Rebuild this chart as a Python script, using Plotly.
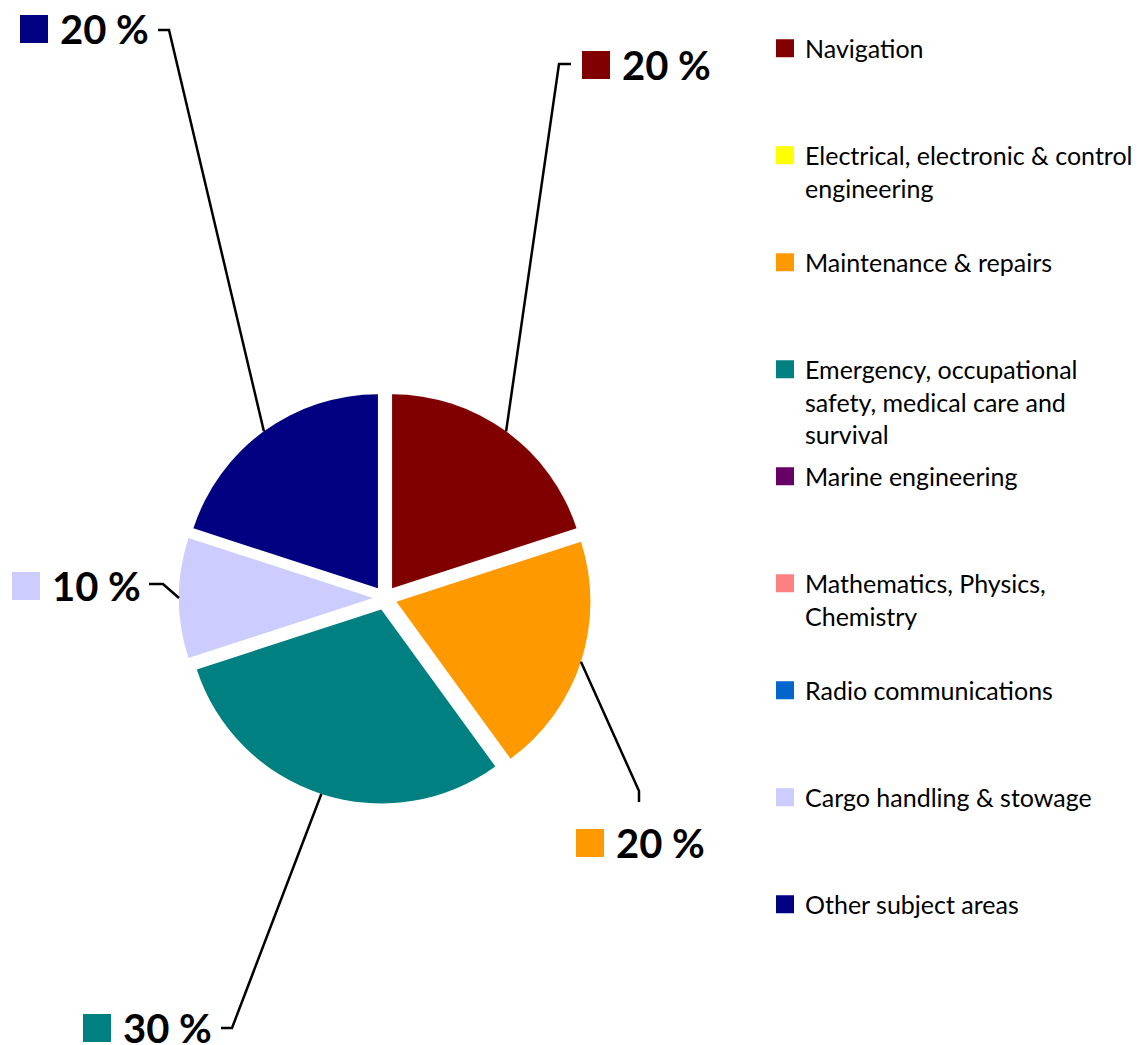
import math
import plotly.graph_objects as go

W, H = 1145, 1045
OFF = 8  # page margin around the figure

# ---- data -------------------------------------------------------------
subjects = [
    "Navigation",
    "Electrical, electronic & control engineering",
    "Maintenance & repairs",
    "Emergency, occupational safety, medical care and survival",
    "Marine engineering",
    "Mathematics, Physics, Chemistry",
    "Radio communications",
    "Cargo handling & stowage",
    "Other subject areas",
]
legend_names = [
    "Navigation",
    "Electrical, electronic & control<br>engineering",
    "Maintenance & repairs",
    "Emergency, occupational<br>safety, medical care and<br>survival",
    "Marine engineering",
    "Mathematics, Physics,<br>Chemistry",
    "Radio communications",
    "Cargo handling & stowage",
    "Other subject areas",
]
shares = [20, 0, 20, 30, 0, 0, 0, 10, 20]
colors = ["#800000", "#FFFF00", "#FF9900", "#008080", "#660066",
          "#FF8080", "#0066CC", "#CCCCFF", "#000080"]

# ---- pie geometry (screen pixels) -------------------------------------
PIE_CX, PIE_CY, PIE_R, PULL = 385, 598, 194, 0.062

# label placement for the non-empty slices:
# (square left, square top, line start, elbow)
label_pos = {
    0: (582, 51, (571, 64), (559, 64)),
    2: (576, 829, (639, 802), (639, 791)),
    3: (83, 1014, (221, 1028), (232, 1028)),
    7: (12, 572, (149, 584), (163, 584)),
    8: (20, 15, (158, 30), (169, 30)),
}


def px(x):
    return (x - OFF) / W


def py(y):
    return 1 - (y - OFF) / H


side = 2 * PIE_R * (1 + PULL)
dom_x = [px(PIE_CX - side / 2), px(PIE_CX + side / 2)]
dom_y = [py(PIE_CY + side / 2), py(PIE_CY - side / 2)]

fig = go.Figure()
fig.add_trace(go.Pie(
    labels=subjects,
    values=shares,
    marker=dict(colors=colors, line=dict(width=0)),
    pull=PULL,
    sort=False,
    direction="clockwise",
    rotation=0,
    textinfo="none",
    showlegend=False,
    domain=dict(x=dom_x, y=dom_y),
))

# legend entries (padded to three lines so every entry has the same pitch)
for name, col in zip(legend_names, colors):
    n_lines = name.count("<br>") + 1
    padded = name + "<br>\u00a0" * (3 - n_lines)
    fig.add_trace(go.Scatter(
        x=[None], y=[None], mode="markers", name=padded,
        legendgroup=name,
        marker=dict(symbol="square", size=16, color=col,
                    line=dict(color=col, width=2)),
    ))

# slice labels with leader lines to the middle of each slice's rim
total = sum(shares)
shapes = []
annotations = []
start = 0.0
d = PULL * PIE_R
for i, v in enumerate(shares):
    a0 = 360 * start / total
    start += v
    a1 = 360 * start / total
    if i not in label_pos or v == 0:
        continue
    sq_x, sq_y, p_start, p_elbow = label_pos[i]
    bis = math.radians((a0 + a1) / 2)
    ex = PIE_CX + (d + PIE_R) * math.sin(bis)
    ey = PIE_CY - (d + PIE_R) * math.cos(bis)
    path = (f"M {px(p_start[0])},{py(p_start[1])} "
            f"L {px(p_elbow[0])},{py(p_elbow[1])} L {px(ex)},{py(ey)}")
    shapes.append(dict(type="path", xref="paper", yref="paper", path=path,
                       line=dict(color="black", width=2.5)))
    shapes.append(dict(type="rect", xref="paper", yref="paper",
                       x0=px(sq_x), x1=px(sq_x + 28), y0=py(sq_y + 28), y1=py(sq_y),
                       fillcolor=colors[i], line=dict(width=0)))
    annotations.append(dict(
        x=px(sq_x + 38), y=py(sq_y + 14), xref="paper", yref="paper",
        xanchor="left", yanchor="middle", showarrow=False,
        text=f"<b>{v} %</b>",
        font=dict(family="Lato", size=40, color="black"),
    ))

fig.update_layout(
    width=W,
    height=H,
    margin=dict(l=0, r=0, t=0, b=0),
    paper_bgcolor="white",
    plot_bgcolor="white",
    xaxis=dict(visible=False),
    yaxis=dict(visible=False),
    font=dict(family="Lato", color="black"),
    shapes=shapes,
    annotations=annotations,
    showlegend=True,
    legend=dict(
        x=px(765), y=1 - 17.5 / H, xanchor="left", yanchor="top",
        valign="top",
        tracegroupgap=6.5,
        font=dict(family="Lato", size=25, color="black"),
        bgcolor="rgba(0,0,0,0)",
    ),
)

fig.write_html("out.html")
